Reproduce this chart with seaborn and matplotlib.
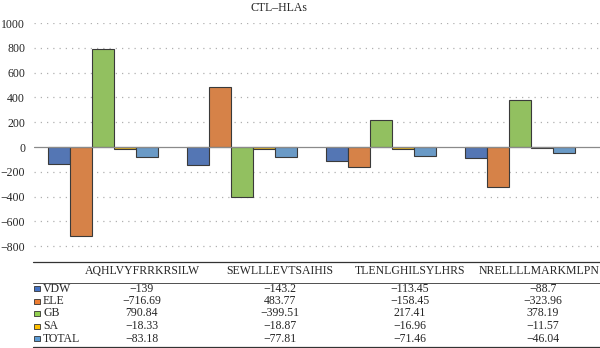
import matplotlib
matplotlib.use("Agg")
import matplotlib.pyplot as plt
import seaborn as sns
import pandas as pd
from matplotlib.patches import Rectangle
from matplotlib.lines import Line2D

peptides = ["AQHLVYFRRKRSILW", "SEWLLLEVTSAIHIS", "TLENLGHILSYLHRS", "NRELLLLMARKMLPN"]
components = ["VDW", "ELE", "GB", "SA", "TOTAL"]
vdw = [-139, -143.2, -113.45, -88.7]
ele = [-716.69, 483.77, -158.45, -323.96]
gb = [790.84, -399.51, 217.41, 378.19]
sa = [-18.33, -18.87, -16.96, -11.57]
total = [-83.18, -77.81, -71.46, -46.04]
vdw_txt = ["−139", "−143.2", "−113.45", "−88.7"]
ele_txt = ["−716.69", "483.77", "−158.45", "−323.96"]
gb_txt = ["790.84", "−399.51", "217.41", "378.19"]
sa_txt = ["−18.33", "−18.87", "−16.96", "−11.57"]
total_txt = ["−83.18", "−77.81", "−71.46", "−46.04"]
colors = ["#4472C4", "#ED7D31", "#92D050", "#FFC000", "#5B9BD5"]
yticks = [1000, 800, 600, 400, 200, 0, -200, -400, -600, -800]

series = [vdw, ele, gb, sa, total]
texts = [vdw_txt, ele_txt, gb_txt, sa_txt, total_txt]
rows = []
for comp, vals in zip(components, series):
    for p, v in zip(peptides, vals):
        rows.append({"peptide": p, "component": comp, "value": v})
df = pd.DataFrame(rows)

sns.set_style("white")
plt.rcParams["font.family"] = ["Liberation Serif", "DejaVu Serif"]
plt.rcParams["axes.unicode_minus"] = True

W, H = 600, 348
fig = plt.figure(figsize=(6, 3.48), dpi=100)
ax_left, ax_right = 33.5, 600
ax_top, ax_bot = 23, 258.6
ax = fig.add_axes([ax_left / W, 1 - ax_bot / H, (ax_right - ax_left) / W, (ax_bot - ax_top) / H])

sns.barplot(data=df, x="peptide", y="value", hue="component", order=peptides,
            hue_order=components, palette=colors, width=0.79, edgecolor="#3a3a3a",
            linewidth=0.8, ax=ax, legend=False, zorder=3)

group_px = 139
ax.set_xlim(-0.5, -0.5 + (ax_right - ax_left) / group_px)
ax.set_ylim(-900, 1000)
ax.set_yticks(yticks)
ax.set_yticklabels([f"{t}".replace("-", "−") for t in yticks], fontsize=8.5)
ax.set_xticks([])
ax.set_xlabel("")
ax.set_ylabel("")
ax.tick_params(axis="y", length=0, pad=6)
for s in ax.spines.values():
    s.set_visible(False)
for t in yticks:
    if t != 0:
        ax.axhline(t, color="#b0b0b0", lw=0.9, ls=(0, (1, 4)), zorder=1)
ax.axhline(0, color="#8a8a8a", lw=0.9, zorder=4)

fig.text(279 / W, 1 - 8 / H, "CTL–HLAs", ha="center", va="center", fontsize=8.5)

# Data table
def fy(py):
    return 1 - py / H

fig.add_artist(Line2D([33 / W, 1.0], [fy(262), fy(262)], color="#333333", lw=0.9))
fig.add_artist(Line2D([33 / W, 1.0], [fy(282.5), fy(282.5)], color="#333333", lw=0.6))
fig.add_artist(Line2D([33 / W, 1.0], [fy(347), fy(347)], color="#333333", lw=0.9))
col_x = [142, 280, 410, 543]
head_x = [142, 280, 410, 539]
for cx, p in zip(head_x, peptides):
    fig.text(cx / W, fy(271), p, ha="center", va="center", fontsize=8.5)
row_y = [288.5, 301, 313.5, 326, 338.5]
for ry, comp, col, tx in zip(row_y, components, colors, texts):
    fig.add_artist(Rectangle((34 / W, fy(ry + 2.5)), 6 / W, 5 / H, facecolor=col,
                             edgecolor="#333333", lw=0.6, transform=fig.transFigure))
    fig.text(43 / W, fy(ry), comp, ha="left", va="center", fontsize=8.5)
    for cx, t in zip(col_x, tx):
        fig.text(cx / W, fy(ry), t, ha="center", va="center", fontsize=8.5)

fig.savefig("out.png", dpi=100)
